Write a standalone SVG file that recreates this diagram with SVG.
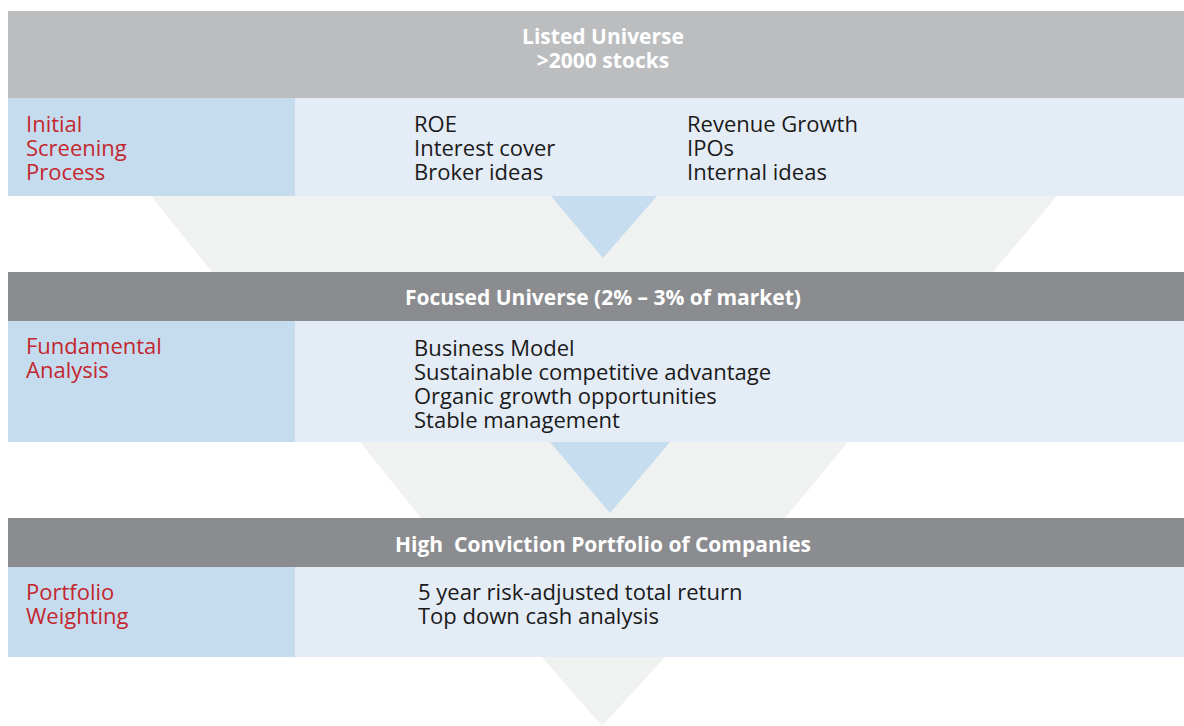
<svg xmlns="http://www.w3.org/2000/svg" width="1184" height="726" viewBox="0 0 1184 726">
  <style>
    .hdr1 { fill: #bcbdbf; }
    .hdr { fill: #8b8c8f; }
    .lcell { fill: #c5dcef; }
    .rcell { fill: #e4ecf6; }
    .funnel { fill: #f0f1f1; }
    .tri { fill: #c5ddef; }
    .htxt { font-family: "Open Sans", "Liberation Sans", sans-serif; font-weight: bold; font-size: 21px; fill: #ffffff; text-anchor: middle; }
    .lbl { font-family: "Open Sans", "Liberation Sans", sans-serif; font-size: 22px; fill: #c4262e; }
    .item { font-family: "Open Sans", "Liberation Sans", sans-serif; font-size: 22px; fill: #1a1a1a; }
  </style>
  <rect width="1184" height="726" fill="#ffffff"/>

  <g id="connectors">
    <polygon class="funnel" points="151,196 1057,196 993,272 212,272"/>
    <polygon class="tri" points="551,196 657,196 603,258"/>
    <polygon class="funnel" points="360,442 848,442 785,518 421,518"/>
    <polygon class="tri" points="550,442 670,442 610,513"/>
    <polygon class="funnel" points="542,657 665,657 602,726"/>
  </g>

  <g id="listed-universe">
    <rect class="hdr1" x="8" y="11" width="1176" height="87"/>
    <text class="htxt" x="603" y="44">Listed Universe<tspan x="603" dy="24">&gt;2000 stocks</tspan></text>
  </g>

  <g id="initial-screening">
    <rect class="lcell" x="8" y="98" width="287" height="98"/>
    <rect class="rcell" x="295" y="98" width="889" height="98"/>
    <text class="lbl" x="26" y="132">Initial<tspan x="26" dy="24">Screening</tspan><tspan x="26" dy="24">Process</tspan></text>
    <text class="item" x="414" y="132">ROE<tspan x="414" dy="24">Interest cover</tspan><tspan x="414" dy="24">Broker ideas</tspan></text>
    <text class="item" x="687" y="132">Revenue Growth<tspan x="687" dy="24">IPOs</tspan><tspan x="687" dy="24">Internal ideas</tspan></text>
  </g>

  <g id="focused-universe">
    <rect class="hdr" x="8" y="272" width="1176" height="49"/>
    <text class="htxt" x="603" y="305">Focused Universe (2% – 3% of market)</text>
  </g>

  <g id="fundamental-analysis">
    <rect class="lcell" x="8" y="321" width="287" height="121"/>
    <rect class="rcell" x="295" y="321" width="889" height="121"/>
    <text class="lbl" x="26" y="354">Fundamental<tspan x="26" dy="24">Analysis</tspan></text>
    <text class="item" x="414" y="356">Business Model<tspan x="414" dy="24">Sustainable competitive advantage</tspan><tspan x="414" dy="24">Organic growth opportunities</tspan><tspan x="414" dy="24">Stable management</tspan></text>
  </g>

  <g id="high-conviction">
    <rect class="hdr" x="8" y="518" width="1176" height="49"/>
    <text class="htxt" x="603" y="552" xml:space="preserve">High  Conviction Portfolio of Companies</text>
  </g>

  <g id="portfolio-weighting">
    <rect class="lcell" x="8" y="567" width="287" height="90"/>
    <rect class="rcell" x="295" y="567" width="889" height="90"/>
    <text class="lbl" x="26" y="600">Portfolio<tspan x="26" dy="24">Weighting</tspan></text>
    <text class="item" x="418" y="600">5 year risk-adjusted total return<tspan x="418" dy="24">Top down cash analysis</tspan></text>
  </g>
</svg>
